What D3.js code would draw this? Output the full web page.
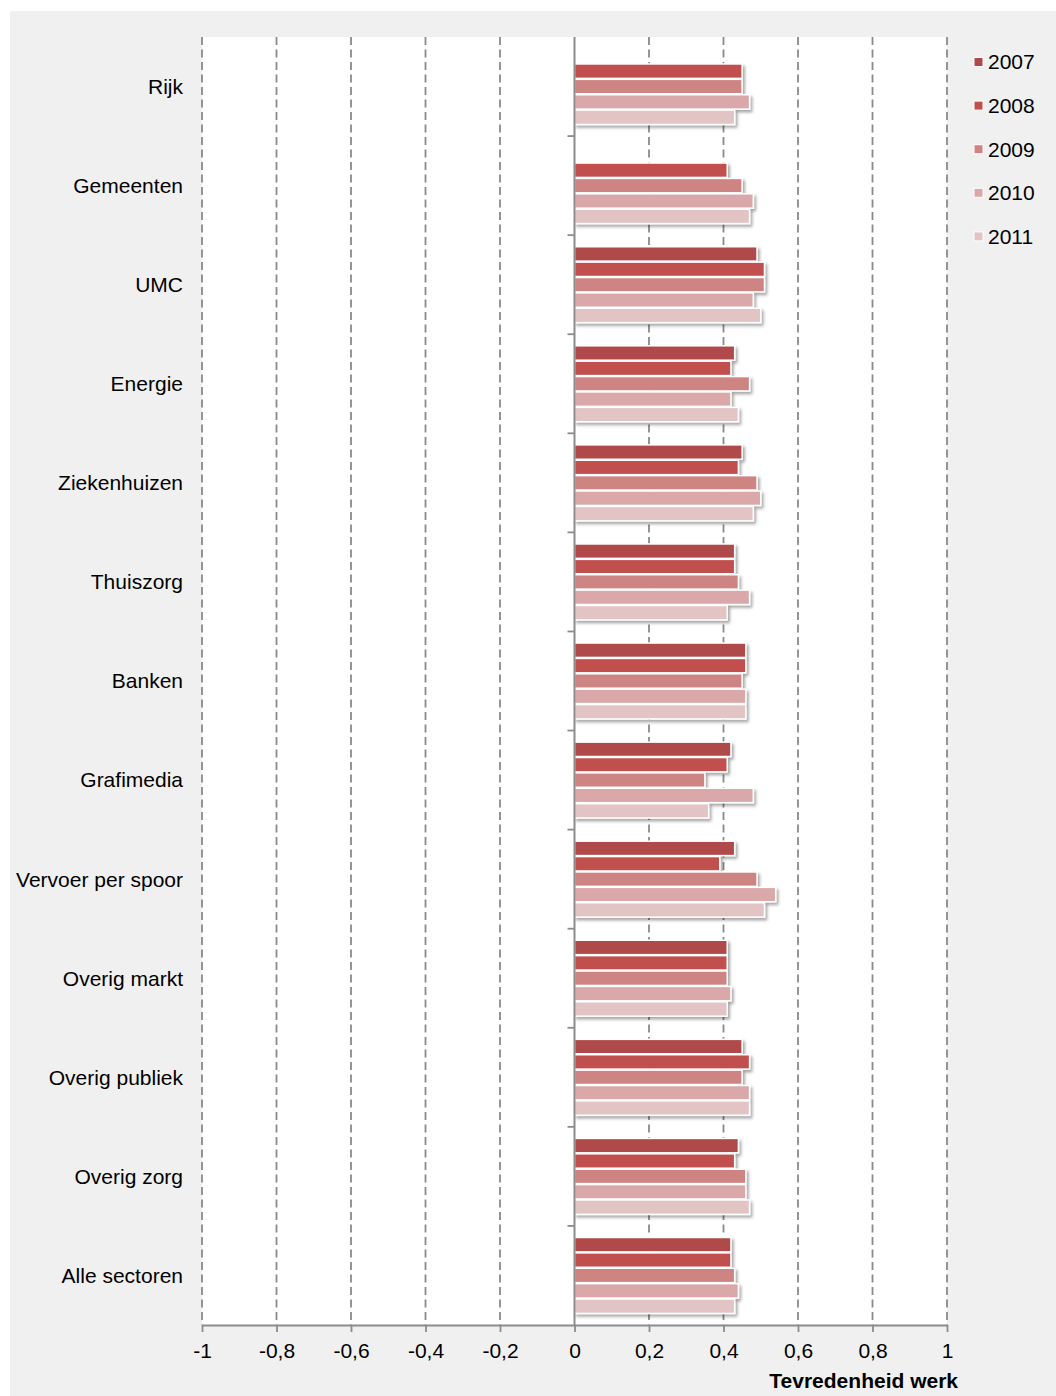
<!DOCTYPE html>
<html>
<head>
<meta charset="utf-8">
<script src="https://cdn.jsdelivr.net/npm/d3@7"></script>
<style>
  html, body { margin: 0; padding: 0; background: #fff; }
  svg { display: block; font-family: Arial, "Liberation Sans", sans-serif; }
</style>
</head>
<body>
<svg id="chart" width="1056" height="1396"></svg>
<script>
const categories = ["Rijk", "Gemeenten", "UMC", "Energie", "Ziekenhuizen", "Thuiszorg", "Banken",
  "Grafimedia", "Vervoer per spoor", "Overig markt", "Overig publiek", "Overig zorg", "Alle sectoren"];
const years = ["2007", "2008", "2009", "2010", "2011"];
const colors = ["#b0494a", "#c0504d", "#cd8482", "#daa8a8", "#e3c4c5"];
const tickValues = [-1, -0.8, -0.6, -0.4, -0.2, 0, 0.2, 0.4, 0.6, 0.8, 1];

const v2007 = [null, null, 0.49, 0.43, 0.45, 0.43, 0.46, 0.42, 0.43, 0.41, 0.45, 0.44, 0.42];
const v2008 = [0.45, 0.41, 0.51, 0.42, 0.44, 0.43, 0.46, 0.41, 0.39, 0.41, 0.47, 0.43, 0.42];
const v2009 = [0.45, 0.45, 0.51, 0.47, 0.49, 0.44, 0.45, 0.35, 0.49, 0.41, 0.45, 0.46, 0.43];
const v2010 = [0.47, 0.48, 0.48, 0.42, 0.50, 0.47, 0.46, 0.48, 0.54, 0.42, 0.47, 0.46, 0.44];
const v2011 = [0.43, 0.47, 0.50, 0.44, 0.48, 0.41, 0.46, 0.36, 0.51, 0.41, 0.47, 0.47, 0.43];
const series = [v2007, v2008, v2009, v2010, v2011];

const svg = d3.select("#chart");
const W = 1056, H = 1396;
const plot = { left: 202, right: 947, top: 37, bottom: 1325 };

// background
svg.append("rect").attr("x", 10).attr("y", 11).attr("width", W - 10).attr("height", H - 11).attr("fill", "#f0f0f0");
svg.append("rect").attr("x", plot.left).attr("y", plot.top)
  .attr("width", plot.right - plot.left).attr("height", plot.bottom - plot.top).attr("fill", "#fff");

const defs = svg.append("defs");
const f = defs.append("filter").attr("id", "shadow").attr("x", "-5%").attr("y", "-30%").attr("width", "115%").attr("height", "190%");
f.append("feDropShadow").attr("dx", 2).attr("dy", 2.5).attr("stdDeviation", 1.6)
  .attr("flood-color", "#000").attr("flood-opacity", 0.35);

const x = d3.scaleLinear().domain([-1, 1]).range([plot.left, plot.right]);
const y0 = d3.scaleBand().domain(categories).range([plot.top, plot.bottom]).padding(0);
const y1 = d3.scaleBand().domain(years).range([0, y0.bandwidth()]).paddingInner(0).paddingOuter(0.72);

// dashed gridlines
svg.append("g").selectAll("line").data(tickValues.filter(d => d !== 0)).join("line")
  .attr("x1", d => x(d)).attr("x2", d => x(d))
  .attr("y1", plot.top).attr("y2", plot.bottom)
  .attr("stroke", "#8a8a8a").attr("stroke-width", 1.8).attr("stroke-dasharray", "8,4.5");

// bars
const rows = [];
categories.forEach((c, i) => {
  years.forEach((yr, j) => {
    if (series[j][i] != null) rows.push({ cat: c, year: yr, value: series[j][i], color: colors[j] });
  });
});
svg.append("g").selectAll("rect").data(rows).join("rect")
  .attr("x", x(0))
  .attr("y", d => y0(d.cat) + y1(d.year) + 0.5)
  .attr("width", d => x(d.value) - x(0))
  .attr("height", y1.bandwidth() - 1)
  .attr("fill", d => d.color)
  .attr("stroke", "#fff").attr("stroke-width", 1.5)
  .attr("filter", "url(#shadow)");

// zero axis with category ticks
const zeroAxis = svg.append("g").attr("transform", `translate(${x(0)},0)`)
  .call(d3.axisLeft(y0).tickValues([]).tickSizeOuter(0));
zeroAxis.select(".domain").remove();
zeroAxis.append("line").attr("x1", 0).attr("x2", 0).attr("y1", plot.top).attr("y2", plot.bottom)
  .attr("stroke", "#8c8c8c").attr("stroke-width", 2);
zeroAxis.selectAll(".cat-tick").data(d3.range(1, categories.length)).join("line")
  .attr("class", "cat-tick")
  .attr("x1", -7).attr("x2", 0)
  .attr("y1", i => plot.top + i * y0.step()).attr("y2", i => plot.top + i * y0.step())
  .attr("stroke", "#8c8c8c").attr("stroke-width", 1.8);

// category labels
svg.append("g").selectAll("text").data(categories).join("text")
  .attr("x", 183).attr("y", d => y0(d) + y0.bandwidth() / 2)
  .attr("dy", "0.35em").attr("text-anchor", "end")
  .attr("font-size", 21).attr("fill", "#000").text(d => d);

// bottom axis
const fmt = d => String(d).replace(".", ",");
const xAxis = svg.append("g").attr("transform", `translate(0,${plot.bottom})`)
  .call(d3.axisBottom(x).tickValues(tickValues).tickFormat(fmt).tickSize(7).tickSizeOuter(0).tickPadding(11));
xAxis.select(".domain").attr("stroke", "#8c8c8c").attr("stroke-width", 2);
xAxis.selectAll(".tick line").attr("stroke", "#8c8c8c").attr("stroke-width", 1.8);
xAxis.selectAll(".tick text").attr("font-size", 21).attr("fill", "#000")
  .attr("font-family", "Arial, 'Liberation Sans', sans-serif");

svg.append("text").attr("x", 958).attr("y", 1388).attr("text-anchor", "end")
  .attr("font-size", 21).attr("font-weight", "bold").text("Tevredenheid werk");

// legend
const legend = svg.append("g").selectAll("g").data(years).join("g")
  .attr("transform", (d, i) => `translate(974,${62 + i * 43.6})`);
legend.append("rect").attr("x", 0).attr("y", -4.5).attr("width", 9).attr("height", 9)
  .attr("fill", (d, i) => colors[i]).attr("stroke", "#fff").attr("stroke-width", 1);
legend.append("text").attr("x", 14).attr("dy", "0.35em").attr("font-size", 21).text(d => d);
</script>
</body>
</html>
